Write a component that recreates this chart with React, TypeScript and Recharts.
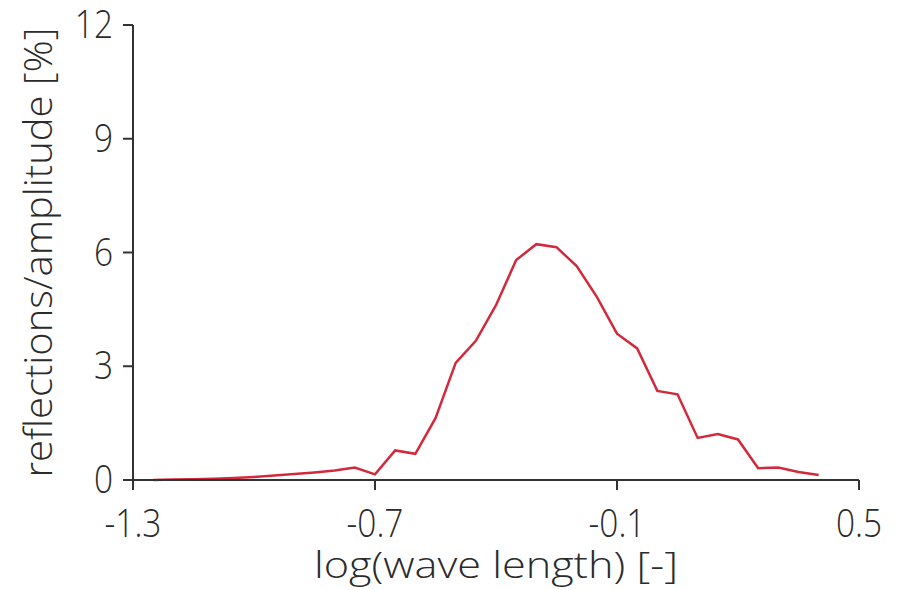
import React from 'react';
import { LineChart, Line, XAxis, YAxis, Label } from 'recharts';

const xValues = [-1.25, -1.2, -1.15, -1.1, -1.05, -1.0, -0.95, -0.9, -0.85, -0.8, -0.75, -0.7, -0.65, -0.6, -0.55, -0.5, -0.45, -0.4, -0.35, -0.3, -0.25, -0.2, -0.15, -0.1, -0.05, 0.0, 0.05, 0.1, 0.15, 0.2, 0.25, 0.3, 0.35, 0.4];
const reflections = [0.0, 0.01, 0.02, 0.03, 0.05, 0.08, 0.12, 0.16, 0.2, 0.25, 0.33, 0.15, 0.78, 0.69, 1.63, 3.09, 3.67, 4.61, 5.8, 6.22, 6.14, 5.64, 4.83, 3.86, 3.47, 2.35, 2.26, 1.11, 1.21, 1.07, 0.31, 0.33, 0.21, 0.13];
const xTicks = [-1.3, -0.7, -0.1, 0.5];
const yTicks = [0, 3, 6, 9, 12];
const xTitle = 'log(wave length) [-]';
const yTitle = 'reflections/amplitude [%]';

const data = xValues.map((x, i) => ({ x, y: reflections[i] }));

const FONT = "'Open Sans', 'Noto Sans', sans-serif";
const AXIS = '#333333';
const TEXT = '#2b2b2b';
const WEIGHT = 350;

const XTick = (props: any) => {
  const { x, y, payload } = props;
  return (
    <g transform={`translate(${x},${y})`}>
      <text x={0} y={47} textAnchor="middle" transform="scale(0.88,1)" fill={TEXT} fontSize={38} fontWeight={WEIGHT} fontFamily={FONT}>
        {String(payload.value)}
      </text>
    </g>
  );
};

const YTick = (props: any) => {
  const { x, y, payload } = props;
  return (
    <g transform={`translate(${x - 10},${y})`}>
      <text x={0} y={13} textAnchor="end" transform="scale(0.88,1)" fill={TEXT} fontSize={38} fontWeight={WEIGHT} fontFamily={FONT}>
        {String(payload.value)}
      </text>
    </g>
  );
};

const XTitle = (props: any) => {
  const vb = props.viewBox || { x: 133, y: 480, width: 726, height: 110 };
  const cx = vb.x + vb.width / 2;
  return (
    <text x={cx} y={vb.y + 98} textAnchor="middle" fill={TEXT} fontSize={37} fontWeight={WEIGHT} fontFamily={FONT} textLength={364} lengthAdjust="spacingAndGlyphs">
      {xTitle}
    </text>
  );
};

const YTitle = (props: any) => {
  const vb = props.viewBox || { x: 0, y: 25, width: 133, height: 455 };
  const cy = vb.y + vb.height / 2;
  const bx = 52;
  return (
    <text x={bx} y={cy} textAnchor="middle" transform={`rotate(-90, ${bx}, ${cy})`} fill={TEXT} fontSize={38} fontWeight={WEIGHT} fontFamily={FONT} textLength={450} lengthAdjust="spacingAndGlyphs">
      {yTitle}
    </text>
  );
};

export default function App() {
  return (
    <div style={{ position: 'absolute', left: 0, top: 0, background: '#fff' }}>
      <LineChart width={898} height={590} data={data} margin={{ top: 25, right: 39, bottom: 0, left: 0 }}>
        <XAxis
          dataKey="x"
          type="number"
          domain={[-1.3, 0.5]}
          ticks={xTicks}
          height={110}
          stroke={AXIS}
          strokeWidth={2}
          tickSize={10}
          tickMargin={0}
          tick={<XTick />}
          interval={0}
        >
          <Label content={<XTitle />} />
        </XAxis>
        <YAxis
          type="number"
          domain={[0, 12]}
          ticks={yTicks}
          width={133}
          stroke={AXIS}
          strokeWidth={2}
          tickSize={10}
          tickMargin={0}
          tick={<YTick />}
          interval={0}
        >
          <Label content={<YTitle />} />
        </YAxis>
        <Line dataKey="y" type="linear" stroke="#d22a3c" strokeWidth={2.5} dot={false} isAnimationActive={false} />
      </LineChart>
    </div>
  );
}
